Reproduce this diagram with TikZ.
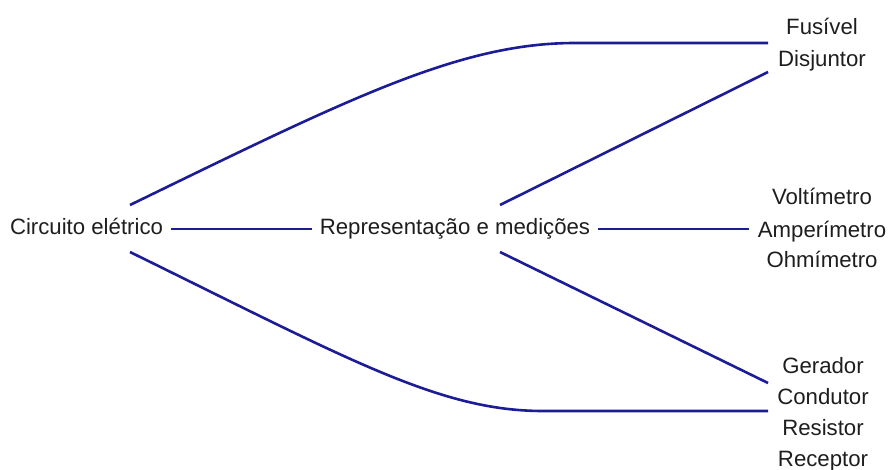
\documentclass[tikz,border=0pt]{standalone}
\usepackage{fontspec}
\setmainfont{Liberation Sans}
\definecolor{txt}{RGB}{30,30,30}
\definecolor{lineblue}{RGB}{28,28,150}
\begin{document}
\begin{tikzpicture}[x=1pt,y=-1pt,
  lbl/.style={text=txt, font=\fontsize{22.2}{26}\selectfont, inner sep=0pt, anchor=base, text height=15.5pt, text depth=3.5pt},
  conn/.style={draw=lineblue, line width=2.6pt}]
\useasboundingbox (0,0) rectangle (888,470);
% main nodes
\node[lbl] (circ) at (86.5,235) {Circuito elétrico};
\node[lbl] (rep) at (455,235) {Representação e medições};
% right groups
\node[lbl] (fus) at (822,35) {Fusível};
\node[lbl] (dis) at (822,67) {Disjuntor};
\node[lbl] (vol) at (822,205) {Voltímetro};
\node[lbl] (amp) at (822,237) {Amperímetro};
\node[lbl] (ohm) at (822,268) {Ohmímetro};
\node[lbl] (ger) at (823,373) {Gerador};
\node[lbl] (con) at (823,404) {Condutor};
\node[lbl] (res) at (823,435) {Resistor};
\node[lbl] (rec) at (823,466) {Receptor};
% connector end points
\coordinate (c1) at (130,205);
\coordinate (c2) at (130,252);
\coordinate (r1) at (500,205);
\coordinate (r2) at (500,252);
\coordinate (e1) at (768,43);
\coordinate (e2) at (768,72);
\coordinate (e3) at (768,383);
\coordinate (e4) at (768,411);
\coordinate (a1) at (749,229);
% connectors
\draw[conn] ([xshift=8pt]circ.east) -- ([xshift=-8pt]rep.west);
\draw[conn] ([xshift=8pt]rep.east) -- (a1);
\draw[conn] (c1) .. controls (350,98) and (460,43) .. (575,43) -- (e1);
\draw[conn] (c2) .. controls (350,360) and (440,411) .. (543,411) -- (e4);
\draw[conn] (r1) -- (e2);
\draw[conn] (r2) -- (e3);
\end{tikzpicture}
\end{document}
